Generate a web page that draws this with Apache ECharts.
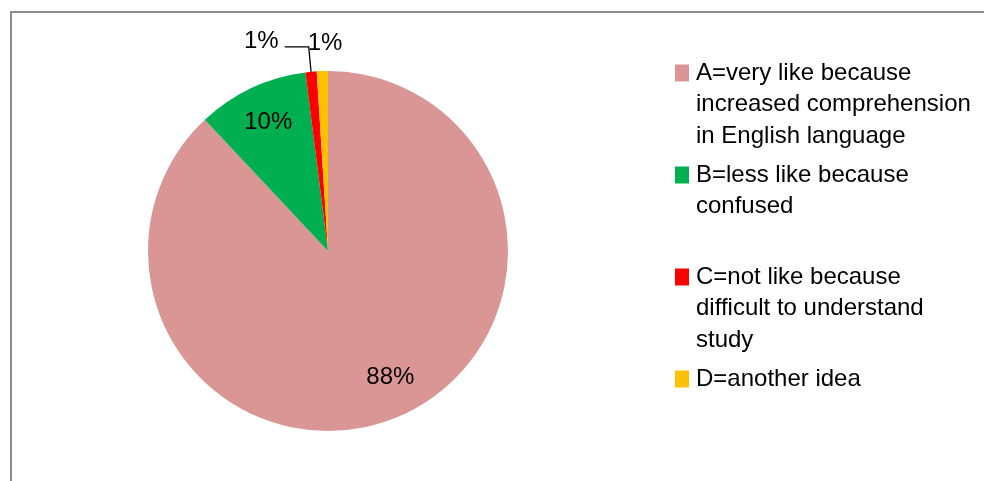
<!DOCTYPE html>
<html>
<head>
<meta charset="utf-8">
<script src="https://cdn.jsdelivr.net/npm/echarts@6/dist/echarts.min.js"></script>
<style>
html,body{margin:0;padding:0;background:#fff;}
#c{width:984px;height:481px;}
</style>
</head>
<body>
<div id="c"></div>
<script>
// ---- data ----
const categories = [
  'A=very like because increased comprehension in English language',
  'B=less like because confused',
  'C=not like because difficult to understand study',
  'D=another idea'
];
const legendLines = [
  ['A=very like because', 'increased comprehension', 'in English language'],
  ['B=less like because', 'confused'],
  ['C=not like because', 'difficult to understand', 'study'],
  ['D=another idea']
];
const values = [88, 10, 1, 1];
const colors = ['#D99694', '#00B050', '#FF0000', '#FFC000'];

// ---- chart ----
const FONT = 'Liberation Sans';
const chart = echarts.init(document.getElementById('c'), null, {renderer: 'canvas'});

const rich = {
  sp: {width: 14, height: 14},
  t: {fontSize: 24, lineHeight: 31.5, fontFamily: FONT, color: '#000', padding: [0, 0, 0, 7]}
};
colors.forEach((c, i) => { rich['m' + i] = {width: 14, height: 14, backgroundColor: c, padding: [3, 0, 0, 0]}; });

const insideIdx = [0, 1];

const mainData = values.map((v, i) => {
  const item = {name: categories[i], value: v, itemStyle: {color: colors[i]}};
  if (insideIdx.includes(i)) {
    item.label = {show: false};
    item.labelLine = {show: false};
  }
  if (i === 3) {
    item.labelLine = {show: false, length: 31, length2: 0};
  }
  return item;
});
const labelData = values.map((v, i) => ({
  name: categories[i], value: v,
  label: {show: insideIdx.includes(i)}
}));

chart.setOption({
  animation: false,
  backgroundColor: '#fff',
  graphic: [{
    type: 'rect', silent: true,
    shape: {x: 11, y: 12, width: 1100, height: 600},
    style: {fill: 'none', stroke: '#8C8C8C', lineWidth: 2}
  }],
  legend: {
    orient: 'vertical',
    left: 670, top: 61,
    padding: 0,
    icon: 'none',
    itemWidth: 0, itemHeight: 14,
    itemGap: 15,
    selectedMode: false,
    data: categories,
    formatter: function (name) {
      const i = categories.indexOf(name);
      const lines = legendLines[i].slice();
      while (i < categories.length - 1 && lines.length < 3) lines.push(' ');
      return lines.map((l, k) => (k === 0 ? '{m' + i + '|}' : '{sp|}') + '{t|' + l + '}').join('\n');
    },
    textStyle: {rich: rich}
  },
  series: [
    {
      type: 'pie',
      center: [328, 251],
      radius: 180,
      startAngle: 90,
      clockwise: true,
      avoidLabelOverlap: false,
      silent: true,
      itemStyle: {borderWidth: 0},
      emphasis: {disabled: true},
      label: {
        show: true, position: 'outside', formatter: '{d}%',
        fontSize: 24, fontFamily: FONT, color: '#000', distanceToLabelLine: 8
      },
      labelLine: {show: true, length: 25, length2: 24, lineStyle: {color: '#000', width: 1.3}},
      labelLayout: function (p) {
        if (p.dataIndex === 3) return {dx: 29, dy: 3};
        if (p.dataIndex === 2) return {dx: 2, dy: -6};
      },
      data: mainData
    },
    {
      type: 'pie',
      center: [328, 251],
      radius: [104, 180],
      startAngle: 90,
      clockwise: true,
      silent: true,
      itemStyle: {color: 'rgba(0,0,0,0)', borderWidth: 0},
      emphasis: {disabled: true},
      label: {
        position: 'inside', formatter: '{d}%',
        fontSize: 24, fontFamily: FONT, color: '#000'
      },
      labelLine: {show: false},
      labelLayout: function (p) {
        if (p.dataIndex === 0) return {dx: 9, dy: -8};
        if (p.dataIndex === 1) return {dx: 2, dy: 3};
      },
      data: labelData
    }
  ]
});
</script>
</body>
</html>
